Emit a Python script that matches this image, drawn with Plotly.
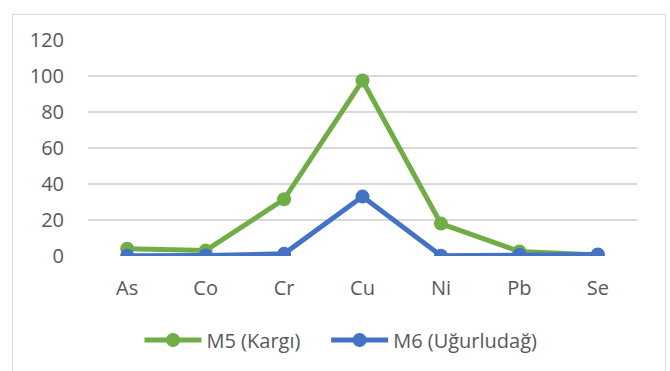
import plotly.graph_objects as go

categories = ["As", "Co", "Cr", "Cu", "Ni", "Pb", "Se"]
m5_values = [4.0, 3.0, 31.5, 97.5, 18.0, 2.5, 0.6]
m6_values = [0.2, 0.3, 1.2, 33.0, 0.2, 0.7, 0.8]
y_ticks = [0, 20, 40, 60, 80, 100, 120]
series_names = ["M5 (Kargı)", "M6 (Uğurludağ)"]

W, H = 670, 371
ml, mr, mt, mb = 88, 33, 40, 115
pw, ph = W - ml - mr, H - mt - mb

fig = go.Figure()
fig.add_trace(go.Scatter(x=categories, y=m5_values, name=series_names[0] + "\u00a0" * 4, mode="lines+markers",
                         line=dict(color="#70AD47", width=5), marker=dict(size=14, color="#70AD47")))
fig.add_trace(go.Scatter(x=categories, y=m6_values, name=series_names[1], mode="lines+markers",
                         line=dict(color="#4472C4", width=5), marker=dict(size=14, color="#4472C4")))

def px(x):
    return (x - ml) / pw

def py(y):
    return (H - mb - y) / ph

fig.add_shape(type="rect", xref="paper", yref="paper",
              x0=px(12.5), x1=px(665.5), y0=py(380), y1=py(14.5),
              line=dict(color="#D9D9D9", width=1), fillcolor="rgba(0,0,0,0)", layer="below")

fig.update_layout(
    width=W, height=H,
    margin=dict(l=ml, r=mr, t=mt, b=mb),
    paper_bgcolor="white", plot_bgcolor="white",
    font=dict(family="Open Sans", size=20, color="#595959"),
    showlegend=True,
    legend=dict(orientation="h", x=px(341), xanchor="center", y=py(340), yanchor="middle",
                font=dict(size=20, color="#595959"), itemwidth=57, tracegroupgap=0),
    xaxis=dict(type="category", range=[-0.5, 6.5], showgrid=False, showline=False, zeroline=False,
               ticks="outside", ticklen=14, tickcolor="rgba(0,0,0,0)", tickfont=dict(size=20)),
    yaxis=dict(range=[0, 120], tickvals=y_ticks, showgrid=True, gridcolor="#D9D9D9", gridwidth=1.5,
               zeroline=False, showline=False, ticks="outside", ticklen=19, tickcolor="rgba(0,0,0,0)",
               tickfont=dict(size=20)),
)

fig.write_html("out.html", config={"displayModeBar": False},
               post_script="document.body.style.margin='0';document.body.style.overflow='hidden';")
